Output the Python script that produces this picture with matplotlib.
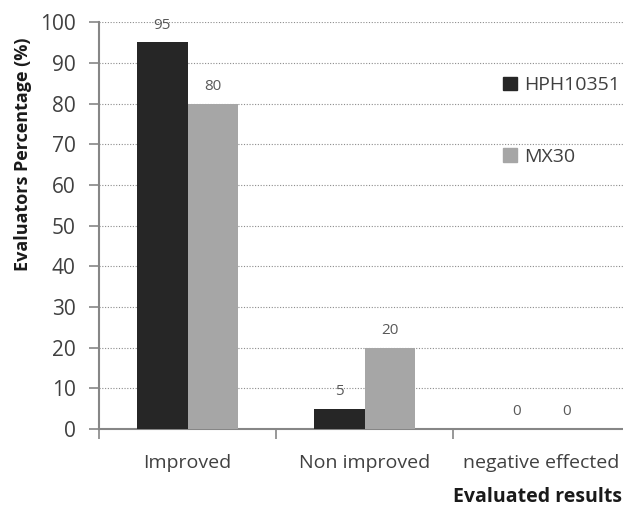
import matplotlib.pyplot as plt
import numpy as np
from matplotlib.patches import Patch

categories = ["Improved", "Non improved", "negative effected"]
series_names = ["HPH10351", "MX30"]
hph_values = [95, 5, 0]
mx_values = [80, 20, 0]
y_ticks = [0, 10, 20, 30, 40, 50, 60, 70, 80, 90, 100]

COLORS = {"dark": "#262626", "light": "#a6a6a6", "axis": "#868686", "text": "#404040"}

plt.rcParams["font.family"] = ["Open Sans", "DejaVu Sans"]

fig = plt.figure(figsize=(6.23, 5.15), dpi=100)
ax = fig.add_axes([0.159, 0.167, 0.841, 0.790])

x = np.arange(len(categories))
width = 0.285
bars = [
    ax.bar(x - width / 2, hph_values, width, color=COLORS["dark"], zorder=3),
    ax.bar(x + width / 2, mx_values, width, color=COLORS["light"], zorder=3),
]
for group in bars:
    for rect in group:
        h = rect.get_height()
        ax.annotate(f"{h:g}", (rect.get_x() + rect.get_width() / 2, h),
                    xytext=(0, 7), textcoords="offset points", ha="center", va="bottom",
                    fontsize=11, color="#595959", zorder=4)

ax.set_xlim(-0.5, 2.46)
ax.set_ylim(0, 100)
ax.set_yticks(y_ticks)
ax.yaxis.grid(True, linestyle=(0, (1, 1.5)), color="#8c8c8c", linewidth=0.8, zorder=0)

ax.set_xticks(x)
ax.set_xticklabels(categories, fontsize=14, color=COLORS["text"])
ax.set_xticks(np.arange(len(categories)) - 0.5, minor=True)
ax.tick_params(axis="x", which="major", length=0, pad=18)
ax.tick_params(axis="x", which="minor", length=7, width=1.2, color=COLORS["axis"])
ax.tick_params(axis="y", length=7, width=1.2, color=COLORS["axis"], labelsize=15,
               labelcolor=COLORS["text"], pad=10)

for side in ("top", "right"):
    ax.spines[side].set_visible(False)
for side in ("left", "bottom"):
    ax.spines[side].set_color(COLORS["axis"])
    ax.spines[side].set_linewidth(1.5)

ax.set_ylabel("Evaluators Percentage (%)", fontsize=13, fontweight="bold", color="#1a1a1a")
ax.yaxis.set_label_coords(-0.128, 0.675)
fig.text(0.999, 0.035, "Evaluated results", ha="right", va="center",
         fontsize=14, fontweight="bold", color="#1a1a1a")

handles = [Patch(color=COLORS["dark"]), Patch(color=COLORS["light"])]
ax.legend(handles, series_names, loc="upper left", bbox_to_anchor=(0.738, 0.91),
          frameon=False, fontsize=14, labelspacing=2.75, handlelength=0.7,
          handleheight=0.7, handletextpad=0.4, labelcolor=COLORS["text"])

fig.savefig("out.png", dpi=100)
